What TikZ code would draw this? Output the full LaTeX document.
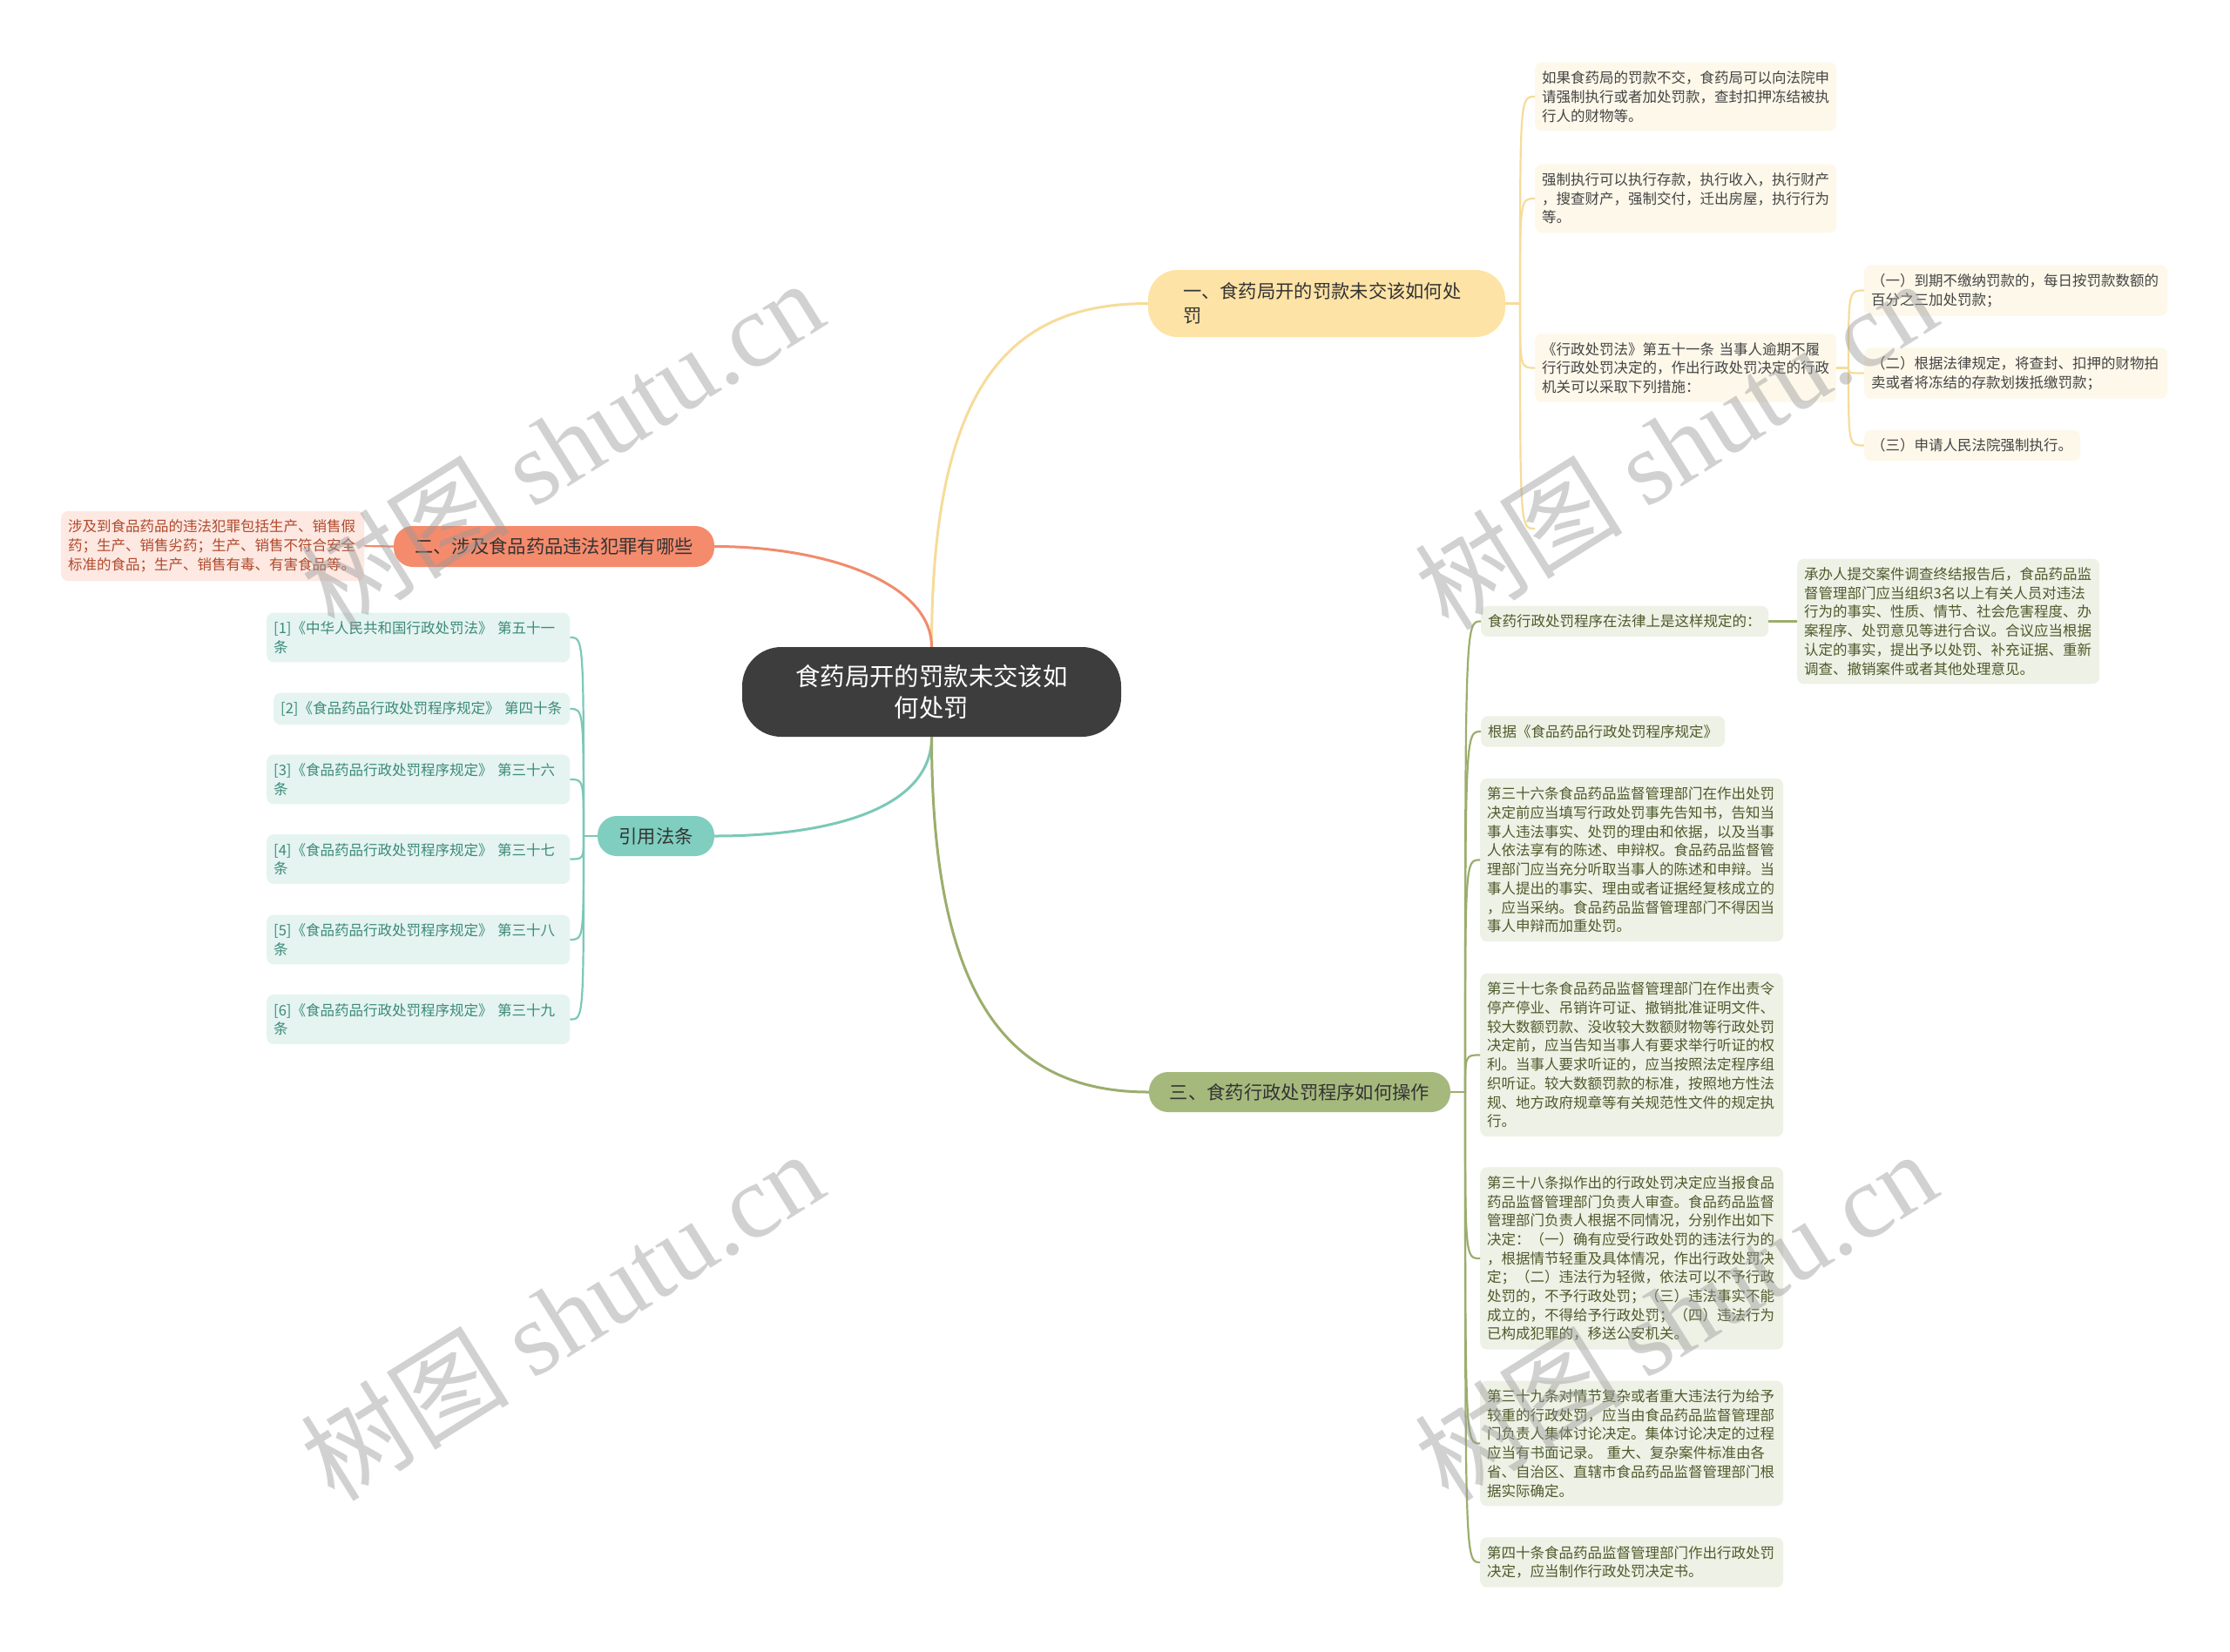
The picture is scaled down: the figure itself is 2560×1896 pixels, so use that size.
\documentclass[tikz,border=0pt]{standalone}
\usepackage{fontspec}
\setmainfont{Noto Sans CJK SC}
\newfontfamily\wmfont{Liberation Serif}
\usepackage{xcolor}
\definecolor{rootGray}{HTML}{3D3D3D}
\definecolor{yTopic}{HTML}{FEE3A6}
\definecolor{yLine}{HTML}{F6DC9A}
\definecolor{yBg}{HTML}{FDF8EA}
\definecolor{yText}{HTML}{444444}
\definecolor{rTopic}{HTML}{F58B6D}
\definecolor{rLine}{HTML}{F08C6C}
\definecolor{rBg}{HTML}{FDE8E2}
\definecolor{rText}{HTML}{B04A2C}
\definecolor{tTopic}{HTML}{7FCEBF}
\definecolor{tLine}{HTML}{7CC8B8}
\definecolor{tBg}{HTML}{E5F4F0}
\definecolor{tText}{HTML}{3B8A7A}
\definecolor{gTopic}{HTML}{A5B97C}
\definecolor{gLine}{HTML}{9BAE6D}
\definecolor{gBg}{HTML}{EEF1E5}
\definecolor{gText}{HTML}{4D5B2C}
\usetikzlibrary{calc}

\begin{document}
\begin{tikzpicture}[x=1pt,y=-1pt,
  root/.style={fill=rootGray, text=white, rounded corners=45pt, inner sep=0pt,
    minimum width=435pt, minimum height=103pt, align=center,
    font=\fontsize{28.4}{36}\selectfont},
  topic/.style={rounded corners=22pt, inner sep=0pt, minimum height=47pt,
    text=black!80, font=\fontsize{21.3}{28}\selectfont},
  leaf/.style={rounded corners=8pt, inner xsep=8pt, inner ysep=10pt, anchor=west,
    align=left, font=\fontsize{16.5}{21.7}\selectfont},
  yleaf/.style={leaf, fill=yBg, text=yText},
  rleaf/.style={leaf, fill=rBg, text=rText},
  tleaf/.style={leaf, fill=tBg, text=tText},
  gleaf/.style={leaf, fill=gBg, text=gText},
  yline/.style={draw=yLine, line width=2.2pt},
  rline/.style={draw=rLine, line width=2.2pt},
  tline/.style={draw=tLine, line width=2.2pt},
  gline/.style={draw=gLine, line width=2.2pt},
  wmark/.style={text=black!40, opacity=0.45, rotate=32, font=\fontsize{120}{126}\selectfont}]
  \useasboundingbox (0,0) rectangle (2560,1896);
  \fill[white] (0,0) rectangle (2560,1896);
  % root
  \node[root] (ctr) at (1069.5,794.5) {食药局开的罚款未交该如\\何处罚};
  % main topics
  \node[topic, fill=yTopic, rounded corners=34pt, minimum height=77pt, inner xsep=40pt,
    text width=330pt, align=left] (b1) at (1523,348.5) {一、食药局开的罚款未交该如何处\\罚};
  \node[topic, fill=rTopic, minimum width=368pt] (b2) at (636,627.5) {二、涉及食品药品违法犯罪有哪些};
  \node[topic, fill=tTopic, minimum width=134pt, minimum height=46pt] (b4) at (753,960) {引用法条};
  \node[topic, fill=gTopic, minimum width=346pt, minimum height=46pt] (b3) at (1492,1254) {三、食药行政处罚程序如何操作};
  % branch one
  \node[yleaf, text width=330pt] (c1a) at (1762,111) {如果食药局的罚款不交，食药局可以向法院申\\请强制执行或者加处罚款，查封扣押冻结被执\\行人的财物等。};
  \node[yleaf, text width=330pt] (c1b) at (1762,228) {强制执行可以执行存款，执行收入，执行财产\\，搜查财产，强制交付，迁出房屋，执行行为\\等。};
  \node[yleaf, text width=330pt] (c1c) at (1762,422.5) {《行政处罚法》第五十一条 当事人逾期不履\\行行政处罚决定的，作出行政处罚决定的行政\\机关可以采取下列措施：};
  \node[yleaf, text width=332pt] (m1) at (2140,333.5) {（一）到期不缴纳罚款的，每日按罚款数额的\\百分之三加处罚款；};
  \node[yleaf, text width=332pt] (m2) at (2140,428.5) {（二）根据法律规定，将查封、扣押的财物拍\\卖或者将冻结的存款划拨抵缴罚款；};
  \node[yleaf, text width=232pt] (m3) at (2140,511.5) {（三）申请人民法院强制执行。};
  \coordinate (c1d) at (1762,607);
  % branch two
  \node[rleaf, text width=332pt] (b2c) at (70,627) {涉及到食品药品的违法犯罪包括生产、销售假\\药；生产、销售劣药；生产、销售不符合安全\\标准的食品；生产、销售有毒、有害食品等。};
  % cited articles
  \node[tleaf, text width=332pt] (r1) at (306,732) {[1]《中华人民共和国行政处罚法》 第五十一\\条};
  \node[tleaf, text width=324pt] (r2) at (314,814) {[2]《食品药品行政处罚程序规定》 第四十条};
  \node[tleaf, text width=332pt] (r3) at (306,895) {[3]《食品药品行政处罚程序规定》 第三十六\\条};
  \node[tleaf, text width=332pt] (r4) at (306,986.5) {[4]《食品药品行政处罚程序规定》 第三十七\\条};
  \node[tleaf, text width=332pt] (r5) at (306,1079) {[5]《食品药品行政处罚程序规定》 第三十八\\条};
  \node[tleaf, text width=332pt] (r6) at (306,1170.5) {[6]《食品药品行政处罚程序规定》 第三十九\\条};
  % branch three
  \node[gleaf, text width=314pt] (g1) at (1700,713.5) {食药行政处罚程序在法律上是这样规定的：};
  \node[gleaf, text width=331pt] (g1c) at (2063,713.5) {承办人提交案件调查终结报告后，食品药品监\\督管理部门应当组织3名以上有关人员对违法\\行为的事实、性质、情节、社会危害程度、办\\案程序、处罚意见等进行合议。合议应当根据\\认定的事实，提出予以处罚、补充证据、重新\\调查、撤销案件或者其他处理意见。};
  \node[gleaf, text width=264pt] (g2) at (1700,840) {根据《食品药品行政处罚程序规定》};
  \node[gleaf, text width=332pt] (g3) at (1699,987.5) {第三十六条食品药品监督管理部门在作出处罚\\决定前应当填写行政处罚事先告知书，告知当\\事人违法事实、处罚的理由和依据，以及当事\\人依法享有的陈述、申辩权。食品药品监督管\\理部门应当充分听取当事人的陈述和申辩。当\\事人提出的事实、理由或者证据经复核成立的\\，应当采纳。食品药品监督管理部门不得因当\\事人申辩而加重处罚。};
  \node[gleaf, text width=332pt] (g4) at (1699,1211.5) {第三十七条食品药品监督管理部门在作出责令\\停产停业、吊销许可证、撤销批准证明文件、\\较大数额罚款、没收较大数额财物等行政处罚\\决定前，应当告知当事人有要求举行听证的权\\利。当事人要求听证的，应当按照法定程序组\\织听证。较大数额罚款的标准，按照地方性法\\规、地方政府规章等有关规范性文件的规定执\\行。};
  \node[gleaf, text width=332pt] (g5) at (1699,1445) {第三十八条拟作出的行政处罚决定应当报食品\\药品监督管理部门负责人审查。食品药品监督\\管理部门负责人根据不同情况，分别作出如下\\决定：（一）确有应受行政处罚的违法行为的\\，根据情节轻重及具体情况，作出行政处罚决\\定；（二）违法行为轻微，依法可以不予行政\\处罚的，不予行政处罚；（三）违法事实不能\\成立的，不得给予行政处罚；（四）违法行为\\已构成犯罪的，移送公安机关。};
  \node[gleaf, text width=332pt] (g6) at (1699,1657.5) {第三十九条对情节复杂或者重大违法行为给予\\较重的行政处罚，应当由食品药品监督管理部\\门负责人集体讨论决定。集体讨论决定的过程\\应当有书面记录。 重大、复杂案件标准由各\\省、自治区、直辖市食品药品监督管理部门根\\据实际确定。};
  \node[gleaf, text width=332pt] (g7) at (1699,1794) {第四十条食品药品监督管理部门作出行政处罚\\决定，应当制作行政处罚决定书。};
  % hubs
  \coordinate (h1) at (1745,348.5);
  \coordinate (h1c) at (2122,422.5);
  \coordinate (h4) at (670,960);
  \coordinate (h3) at (1682,1254);
  % root to topics
  \draw[yline, line width=3pt] (ctr.north) .. controls (1069.5,440) and (1160,348.5) .. (b1.west);
  \draw[rline, line width=3pt] (ctr.north) .. controls (1069.5,670) and (950,627.5) .. (b2.east);
  \draw[tline, line width=3pt] (ctr.south) .. controls (1069.5,930) and (950,960) .. (b4.east);
  \draw[gline, line width=3pt] (ctr.south) .. controls (1069.5,1150) and (1160,1254) .. (b3.west);
  % topics to leaves
  \draw[yline] (b1.east) -- (h1);
  \foreach \c in {c1a,c1b,c1c}
    \draw[yline] (h1) .. controls (h1 |- \c.west) .. (\c.west);
  \draw[yline] (h1) .. controls (h1 |- c1d) .. (c1d);
  \draw[yline] (c1c.east) -- (h1c);
  \foreach \c in {m1,m2,m3}
    \draw[yline] (h1c) .. controls (h1c |- \c.west) .. (\c.west);
  \draw[rline] (b2.west) -- (b2c.east);
  \draw[tline] (b4.west) -- (h4);
  \foreach \c in {r1,r2,r3,r4,r5,r6}
    \draw[tline] (h4) .. controls (h4 |- \c.east) .. (\c.east);
  \draw[gline] (b3.east) -- (h3);
  \foreach \c in {g1,g2,g3,g4,g5,g6,g7}
    \draw[gline] (h3) .. controls (h3 |- \c.west) .. (\c.west);
  \draw[gline] (g1.east) -- (g1c.west);
  % watermarks
  \foreach \wx/\wy in {645/510, 1923/510, 645/1510, 1923/1510}
    \node[wmark] at (\wx,\wy) {树图 {\wmfont shutu.cn}};
\end{tikzpicture}
\end{document}
